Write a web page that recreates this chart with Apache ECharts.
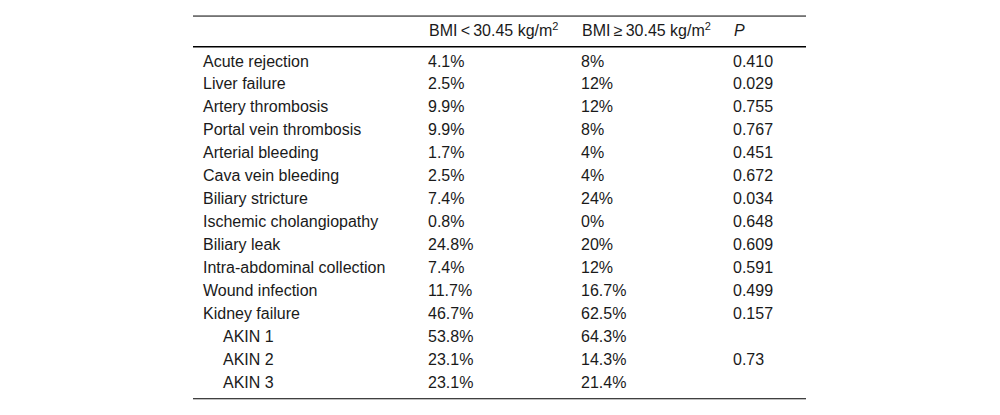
<!DOCTYPE html>
<html>
<head>
<meta charset="utf-8">
<style>
  html, body { margin: 0; padding: 0; background: #fff; }
  #chart { width: 1000px; height: 415px; }
</style>
<script src="https://cdn.jsdelivr.net/npm/echarts@6/dist/echarts.min.js"></script>
</head>
<body>
<div id="chart"></div>
<script>
(function () {
  var ink = '#1a1a1a';
  var font = '"Liberation Sans", Arial, sans-serif';

  // table content
  var headers = ['', 'BMI\u2009<\u200930.45 kg/m{sup|2}', 'BMI\u2009\u2265\u200930.45 kg/m{sup|2}', 'P'];
  var outcomes = ['Acute rejection', 'Liver failure', 'Artery thrombosis', 'Portal vein thrombosis',
    'Arterial bleeding', 'Cava vein bleeding', 'Biliary stricture', 'Ischemic cholangiopathy',
    'Biliary leak', 'Intra-abdominal collection', 'Wound infection', 'Kidney failure',
    'AKIN 1', 'AKIN 2', 'AKIN 3'];
  var indented = [false, false, false, false, false, false, false, false,
    false, false, false, false, true, true, true];
  var bmiLow = ['4.1%', '2.5%', '9.9%', '9.9%', '1.7%', '2.5%', '7.4%', '0.8%',
    '24.8%', '7.4%', '11.7%', '46.7%', '53.8%', '23.1%', '23.1%'];
  var bmiHigh = ['8%', '12%', '12%', '8%', '4%', '4%', '24%', '0%',
    '20%', '12%', '16.7%', '62.5%', '64.3%', '14.3%', '21.4%'];
  var pValues = ['0.410', '0.029', '0.755', '0.767', '0.451', '0.672', '0.034', '0.648',
    '0.609', '0.591', '0.499', '0.157', '', '0.73', ''];

  // layout (x anchors on a 0..1000 axis, row index on y)
  var colX = [203, 428, 581, 733];
  var indentX = 20;
  var ruleLeft = 193, ruleRight = 806;
  var headerRow = -1.31;
  var rules = [{ y: -1.96, w: 1 }, { y: -0.62, w: 1.6 }, { y: 14.73, w: 1.2 }];

  var rows = outcomes.map(function (name, i) {
    return [i, name, bmiLow[i], bmiHigh[i], pValues[i], indented[i] ? 1 : 0];
  });

  var chart = echarts.init(document.getElementById('chart'), null, { renderer: 'svg' });

  function txt(x, y, s) {
    return { type: 'text', style: { x: x, y: y, text: s, fill: ink, font: '16px ' + font,
      textAlign: 'left', textVerticalAlign: 'middle' } };
  }

  chart.setOption({
    animation: false,
    grid: { left: 0, right: 0, top: 61, bottom: 33 },
    xAxis: { type: 'value', min: 0, max: 1000, show: false },
    yAxis: { type: 'value', min: 0, max: 14, inverse: true, show: false },
    series: [
      {
        type: 'custom',
        clip: false,
        data: rows,
        renderItem: function (params, api) {
          var r = api.value(0);
          var y = api.coord([0, r])[1];
          var d = rows[params.dataIndex];
          var x0 = api.coord([colX[0] + (d[5] ? indentX : 0), r])[0];
          var children = [txt(x0, y, d[1])];
          for (var c = 1; c <= 3; c++) {
            if (d[c + 1]) children.push(txt(api.coord([colX[c], r])[0], y, d[c + 1]));
          }
          return { type: 'group', children: children };
        }
      },
      {
        type: 'custom',
        clip: false,
        data: [[headerRow]],
        renderItem: function (params, api) {
          var y = api.coord([0, api.value(0)])[1];
          var children = [];
          for (var c = 1; c <= 3; c++) {
            var x = api.coord([colX[c] + 1, 0])[0];
            children.push({
              type: 'text',
              style: {
                x: x, y: y, text: headers[c], fill: ink,
                font: (c === 3 ? 'italic ' : '') + '16px ' + font,
                textAlign: 'left', textVerticalAlign: 'middle',
                rich: { sup: { fontSize: 11, verticalAlign: 'top', padding: [0, 0, 9, 0], fill: ink } }
              }
            });
          }
          return { type: 'group', children: children };
        }
      },
      {
        type: 'custom',
        clip: false,
        data: rules.map(function (r) { return [r.y, r.w]; }),
        renderItem: function (params, api) {
          var a = api.coord([ruleLeft, api.value(0)]);
          var b = api.coord([ruleRight, api.value(0)]);
          return {
            type: 'line',
            shape: { x1: a[0], y1: a[1], x2: b[0], y2: b[1] },
            style: { stroke: '#000', lineWidth: api.value(1) }
          };
        }
      }
    ]
  });
})();
</script>
</body>
</html>
